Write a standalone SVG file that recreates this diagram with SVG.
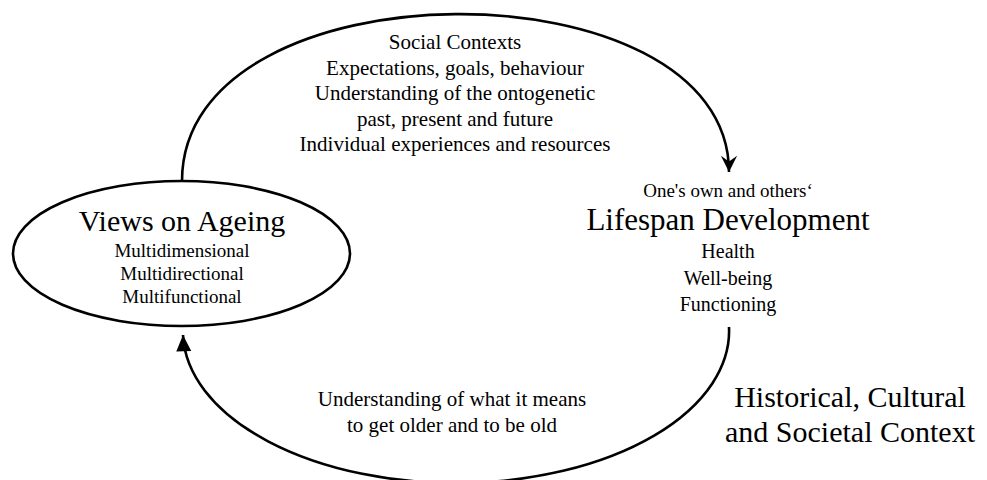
<svg xmlns="http://www.w3.org/2000/svg" width="987" height="480" viewBox="0 0 987 480">
  <style>
    .t { font-family: "Liberation Serif", "Times New Roman", serif; fill: #000; text-anchor: middle; }
    .line { fill: none; stroke: #000; stroke-width: 2.6; }
  </style>
  <defs>
    <!-- barbed head for the upper arc -->
    <marker id="barb" markerUnits="userSpaceOnUse" markerWidth="20" markerHeight="20" viewBox="-14 -8 16 16" refX="0" refY="0" orient="auto">
      <path d="M0,0 L-13,-6.5 L-8.5,0 L-13,6.5 Z" fill="#000"/>
    </marker>
    <!-- plain triangular head for the lower arc -->
    <marker id="tri" markerUnits="userSpaceOnUse" markerWidth="20" markerHeight="20" viewBox="-14 -8 16 16" refX="0" refY="0" orient="auto">
      <path d="M0,0 L-13,-6 L-13,6 Z" fill="#000"/>
    </marker>
  </defs>

  <rect width="987" height="480" fill="#fff"/>

  <g id="connectors">
    <path id="arc-top" class="line" d="M182,181 C182,-40 729,-40 729,172" marker-end="url(#barb)"/>
    <path id="arc-bottom" class="line" d="M729,327 A273,152 0 0 1 183,335" marker-end="url(#tri)"/>
  </g>

  <g id="label-top">
    <text class="t" font-size="21" x="455" y="49">Social Contexts</text>
    <text class="t" font-size="21" x="455" y="74.5">Expectations, goals, behaviour</text>
    <text class="t" font-size="21" x="455" y="100">Understanding of the ontogenetic</text>
    <text class="t" font-size="21" x="455" y="125.5">past, present and future</text>
    <text class="t" font-size="21" x="455" y="151">Individual experiences and resources</text>
  </g>

  <g id="views-on-ageing">
    <ellipse cx="181.5" cy="253.5" rx="168.5" ry="72.5" fill="#fff" stroke="#000" stroke-width="2.6"/>
    <text class="t" font-size="30" x="182" y="231">Views on Ageing</text>
    <text class="t" font-size="19" x="182" y="257">Multidimensional</text>
    <text class="t" font-size="19" x="182" y="280">Multidirectional</text>
    <text class="t" font-size="19" x="182" y="303">Multifunctional</text>
  </g>

  <g id="lifespan-development">
    <text class="t" font-size="19" x="728" y="197">One's own and others‘</text>
    <text class="t" font-size="31" x="728" y="230">Lifespan Development</text>
    <text class="t" font-size="20" x="728" y="258">Health</text>
    <text class="t" font-size="20" x="728" y="284.5">Well-being</text>
    <text class="t" font-size="20" x="728" y="311">Functioning</text>
  </g>

  <g id="label-bottom">
    <text class="t" font-size="21" x="452" y="406">Understanding of what it means</text>
    <text class="t" font-size="21" x="452" y="432">to get older and to be old</text>
  </g>

  <g id="context">
    <text class="t" font-size="30" x="850" y="407">Historical, Cultural</text>
    <text class="t" font-size="30" x="850" y="442">and Societal Context</text>
  </g>
</svg>
